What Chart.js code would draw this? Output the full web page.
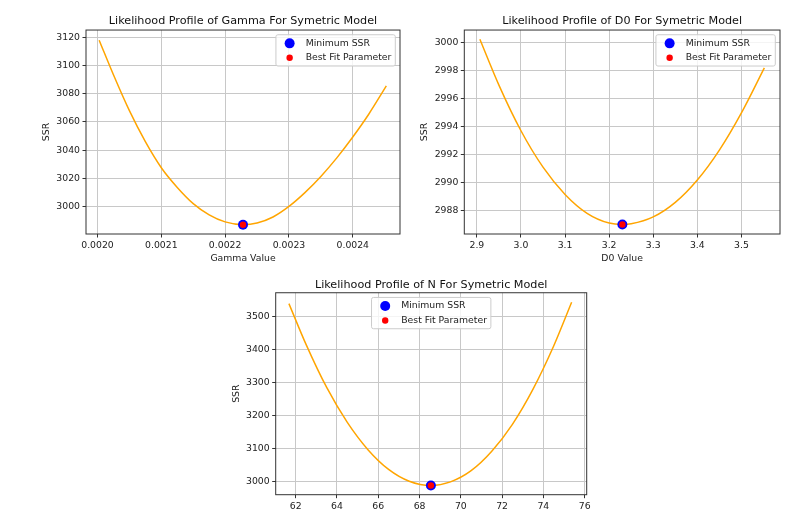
<!DOCTYPE html>
<html>
<head>
<meta charset="utf-8">
<script src="https://cdn.jsdelivr.net/npm/chart.js@4.4.1/dist/chart.umd.min.js"></script>
<style>
  body { margin: 0; background: #fff; width: 797px; height: 510px; position: relative; overflow: hidden; }
  canvas { position: absolute; }
</style>
</head>
<body>
<canvas id="gammaChart" width="405" height="270" style="left:0px;top:0px"></canvas>
<canvas id="d0Chart" width="392" height="270" style="left:405px;top:0px"></canvas>
<canvas id="nChart" width="380" height="245" style="left:220px;top:265px"></canvas>
<script>
// profile of gamma
const gammaValues = [0.0020026, 0.002025, 0.00205, 0.002075, 0.0021, 0.002125, 0.00215, 0.002175, 0.0022, 0.002228,
  0.00225, 0.002275, 0.0023, 0.002325, 0.00235, 0.002375, 0.0024, 0.002425, 0.0024526];
const gammaSsr = [3118.1, 3093.5, 3068, 3046, 3027.5, 3013.5, 3002, 2994, 2989, 2987.0,
  2988.2, 2992.5, 3000, 3009.8, 3021.3, 3034.5, 3049.3, 3065.5, 3085.6];
const gammaMin = [0.002228];
const gammaMinSsr = [2987.0];
const gammaTicks = [0.0020, 0.0021, 0.0022, 0.0023, 0.0024];
const gammaSsrTicks = [3000, 3020, 3040, 3060, 3080, 3100, 3120];

// profile of D0
const d0Values = [2.9068, 2.95, 3.0, 3.05, 3.1, 3.15, 3.2, 3.23, 3.25, 3.3, 3.35, 3.4, 3.45, 3.5, 3.552];
const d0Ssr = [3000.24, 2996.96, 2993.7, 2991.1, 2989.15, 2987.8, 2987.1, 2987.0, 2987.05, 2987.54, 2988.58, 2990.18, 2992.32, 2994.98, 2998.2];
const d0Min = [3.23];
const d0MinSsr = [2987.0];
const d0Ticks = [2.9, 3.0, 3.1, 3.2, 3.3, 3.4, 3.5];
const d0SsrTicks = [2988, 2990, 2992, 2994, 2996, 2998, 3000];

// profile of N
const nValues = [61.67, 62.5, 63.5, 64.5, 65.5, 66.5, 67.5, 68.55, 69.5, 70.5, 71.5, 72.5, 73.5, 74.5, 75.37];
const nSsr = [3540, 3416, 3285, 3179, 3096, 3036, 3000, 2987, 2998, 3032, 3091, 3173, 3280, 3411, 3544];
const nMin = [68.55];
const nMinSsr = [2987.0];
const nTicks = [62, 64, 66, 68, 70, 72, 74, 76];
const nSsrTicks = [3000, 3100, 3200, 3300, 3400, 3500];

const FONT = 'DejaVu Sans';
const TEXT = '#222';

// axes frame on all four sides, like matplotlib spines
const framePlugin = {
  id: 'frame',
  afterDatasetsDraw(chart) {
    const { ctx, chartArea: a } = chart;
    ctx.save();
    ctx.strokeStyle = '#333';
    ctx.lineWidth = 1;
    ctx.strokeRect(a.left, a.top, a.right - a.left, a.bottom - a.top);
    ctx.restore();
  }
};

// legend box inside the plot area
const boxLegendPlugin = {
  id: 'boxLegend',
  afterDraw(chart, args, opts) {
    const { ctx, chartArea: a } = chart;
    const items = chart.data.datasets.filter(d => d.legendRadius);
    ctx.save();
    ctx.font = '9.3px "' + FONT + '"';
    const textW = Math.max(...items.map(d => ctx.measureText(d.label).width));
    const w = 29.7 + textW + 3.9;
    const h = 31.3;
    const left = opts.align === 'center' ? (a.left + a.right - w) / 2 : a.right - 4.7 - w;
    const top = a.top + 4.7;
    ctx.beginPath();
    if (ctx.roundRect) ctx.roundRect(left, top, w, h, 2);
    else ctx.rect(left, top, w, h);
    ctx.fillStyle = 'rgba(255,255,255,0.8)';
    ctx.fill();
    ctx.strokeStyle = '#cccccc';
    ctx.lineWidth = 1;
    ctx.stroke();
    items.forEach((d, i) => {
      const y = top + 8.6 + i * 14.4;
      ctx.beginPath();
      ctx.arc(left + 13.7, y, d.legendRadius, 0, Math.PI * 2);
      ctx.fillStyle = d.backgroundColor;
      ctx.fill();
      ctx.fillStyle = TEXT;
      ctx.textBaseline = 'middle';
      ctx.textAlign = 'left';
      ctx.fillText(d.label, left + 29.7, y);
    });
    ctx.restore();
  }
};

function points(xs, ys) {
  return xs.map((x, i) => ({ x: x, y: ys[i] }));
}

function makeChart(id, c) {
  return new Chart(document.getElementById(id), {
    type: 'scatter',
    data: {
      datasets: [
        {
          label: 'curve',
          data: points(c.xs, c.ys),
          showLine: true,
          borderColor: '#ffa500',
          borderWidth: 1.5,
          pointRadius: 0,
          cubicInterpolationMode: 'monotone',
          order: 3
        },
        {
          label: 'Minimum SSR',
          data: points(c.minX, c.minY),
          backgroundColor: '#0000ff',
          borderWidth: 0,
          pointBorderWidth: 0,
          pointRadius: 5,
          legendRadius: 5,
          order: 2
        },
        {
          label: 'Best Fit Parameter',
          data: points(c.minX, c.minY),
          backgroundColor: '#ff0000',
          borderWidth: 0,
          pointBorderWidth: 0,
          pointRadius: 3.2,
          legendRadius: 3.2,
          order: 1
        }
      ]
    },
    options: {
      responsive: false,
      animation: false,
      events: [],
      layout: { padding: { left: 0, top: 0, bottom: 0, right: c.padRight } },
      plugins: {
        legend: { display: false },
        tooltip: { enabled: false },
        title: {
          display: true,
          text: c.title,
          fullSize: false,
          color: '#111',
          font: { family: FONT, size: 11.2, weight: 'normal' },
          padding: { top: c.titleTop, bottom: c.titleBottom }
        },
        boxLegend: { align: c.legendAlign }
      },
      scales: {
        x: {
          type: 'linear',
          min: c.xMin,
          max: c.xMax,
          afterBuildTicks: s => { s.ticks = c.xTicks.map(v => ({ value: v })); },
          afterFit: s => { s.height = c.xAxisHeight; },
          border: { display: false },
          grid: { color: '#c8c8c8', lineWidth: 1, tickColor: '#333', tickLength: 3.5, tickWidth: 1 },
          ticks: {
            color: TEXT,
            padding: 3,
            maxRotation: 0,
            autoSkip: false,
            font: { family: FONT, size: 9.3 },
            callback: v => v.toFixed(c.xDecimals)
          },
          title: {
            display: !!c.xLabel,
            text: c.xLabel,
            color: TEXT,
            font: { family: FONT, size: 9.3 },
            padding: { top: 0, bottom: 6.1 }
          }
        },
        y: {
          type: 'linear',
          min: c.yMin,
          max: c.yMax,
          afterBuildTicks: s => { s.ticks = c.yTicks.map(v => ({ value: v })); },
          afterFit: s => { s.width = c.yAxisWidth; },
          border: { display: false },
          grid: { color: '#c8c8c8', lineWidth: 1, tickColor: '#333', tickLength: 3.5, tickWidth: 1 },
          ticks: {
            color: TEXT,
            padding: 2.5,
            autoSkip: false,
            font: { family: FONT, size: 9.3 },
            callback: v => v.toFixed(0)
          },
          title: {
            display: true,
            text: 'SSR',
            color: TEXT,
            font: { family: FONT, size: 9.3 },
            padding: { top: c.yLabelPad, bottom: 0 }
          }
        }
      }
    },
    plugins: [framePlugin, boxLegendPlugin]
  });
}

makeChart('gammaChart', {
  xs: gammaValues, ys: gammaSsr, minX: gammaMin, minY: gammaMinSsr,
  xTicks: gammaTicks, yTicks: gammaSsrTicks, xDecimals: 4,
  xMin: 0.001982, xMax: 0.002474, yMin: 2980.4, yMax: 3125.3,
  title: 'Likelihood Profile of Gamma For Symetric Model', xLabel: 'Gamma Value',
  padRight: 5, yAxisWidth: 86, xAxisHeight: 36, yLabelPad: 41.1,
  titleTop: 14.8, titleBottom: 1.8, legendAlign: 'right'
});

makeChart('d0Chart', {
  xs: d0Values, ys: d0Ssr, minX: d0Min, minY: d0MinSsr,
  xTicks: d0Ticks, yTicks: d0SsrTicks, xDecimals: 1,
  xMin: 2.8715, xMax: 3.5875, yMin: 2986.32, yMax: 3000.9,
  title: 'Likelihood Profile of D0 For Symetric Model', xLabel: 'D0 Value',
  padRight: 17, yAxisWidth: 59.3, xAxisHeight: 36, yLabelPad: 14.4,
  titleTop: 14.8, titleBottom: 1.8, legendAlign: 'right'
});

makeChart('nChart', {
  xs: nValues, ys: nSsr, minX: nMin, minY: nMinSsr,
  xTicks: nTicks, yTicks: nSsrTicks, xDecimals: 0,
  xMin: 61.03, xMax: 76.1, yMin: 2959, yMax: 3573,
  title: 'Likelihood Profile of N For Symetric Model', xLabel: '',
  padRight: 13.3, yAxisWidth: 55.7, xAxisHeight: 15.3, yLabelPad: 11.1,
  titleTop: 13.3, titleBottom: 1.0, legendAlign: 'center'
});
</script>
</body>
</html>
